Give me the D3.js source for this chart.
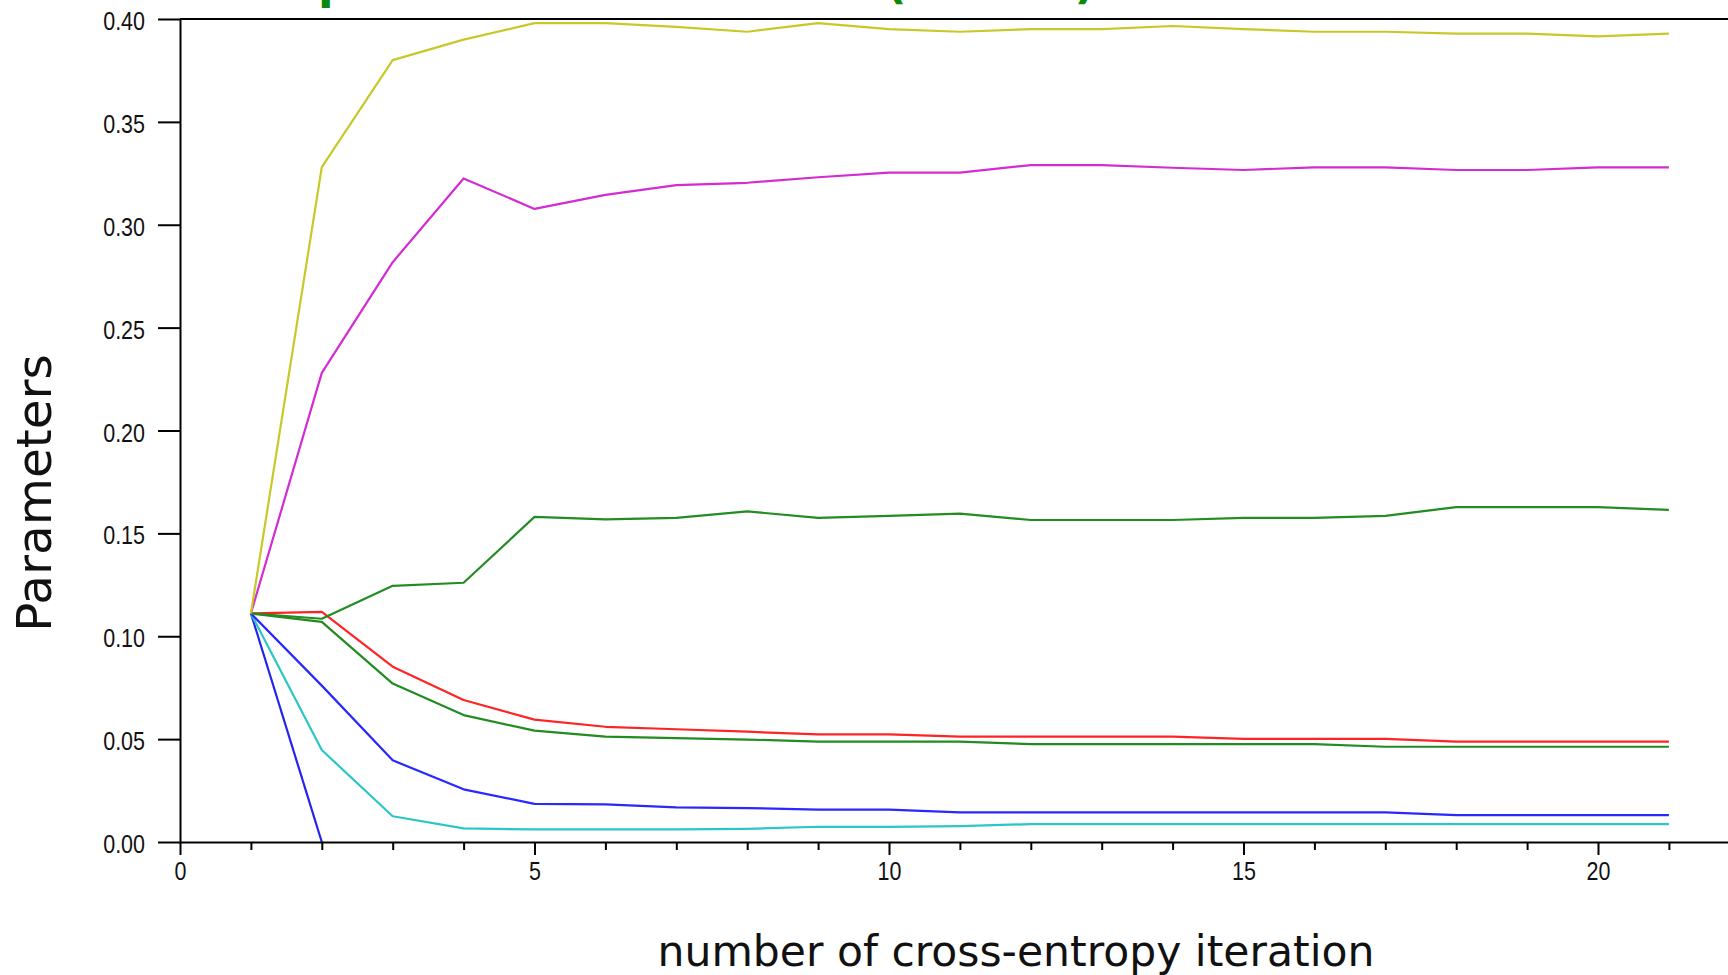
<!DOCTYPE html>
<html>
<head>
<meta charset="utf-8">
<script src="https://cdn.jsdelivr.net/npm/d3@7/dist/d3.min.js"></script>
<style>
  html, body { margin: 0; padding: 0; background: #fff; overflow: hidden; }
  svg { display: block; }
</style>
</head>
<body>
<div id="drawArea"></div>
<script>

// iterations 1..21 of the cross-entropy run
var iterations = d3.range(1, 22);

var yellowSeries = [0.1111, 0.328, 0.380, 0.390, 0.398, 0.398, 0.3962, 0.3938, 0.398, 0.3951, 0.3938,
										0.3951, 0.3951, 0.3966, 0.3951, 0.3938, 0.3938, 0.3929, 0.3929, 0.3916, 0.3929];
var magentaSeries = [0.1111, 0.228, 0.2818, 0.3225, 0.3077, 0.3145, 0.3193, 0.3204, 0.3231, 0.3253, 0.3253,
										 0.329, 0.329, 0.3277, 0.3266, 0.3279, 0.3279, 0.3266, 0.3266, 0.3279, 0.3279];
var greenUpperSeries = [0.1111, 0.1085, 0.1245, 0.126, 0.158, 0.1568, 0.1575, 0.1607, 0.1575, 0.1585, 0.1596,
												0.1565, 0.1565, 0.1565, 0.1575, 0.1575, 0.1585, 0.1628, 0.1628, 0.1628, 0.1614];
var redSeries = [0.1111, 0.1118, 0.0852, 0.069, 0.0595, 0.056, 0.0548, 0.0536, 0.0523, 0.0523, 0.0512,
								 0.0512, 0.0512, 0.0512, 0.0501, 0.0501, 0.0501, 0.0488, 0.0488, 0.0488, 0.0488];
var greenLowerSeries = [0.1111, 0.107, 0.077, 0.0617, 0.0541, 0.0512, 0.0505, 0.0498, 0.0488, 0.0488, 0.0488,
												0.0476, 0.0476, 0.0476, 0.0476, 0.0476, 0.0463, 0.0463, 0.0463, 0.0463, 0.0463];
var blueSeries = [0.1111, 0.076, 0.0397, 0.0256, 0.0185, 0.0183, 0.0168, 0.0165, 0.0157, 0.0157, 0.0144,
									0.0144, 0.0144, 0.0144, 0.0144, 0.0144, 0.0144, 0.0131, 0.0131, 0.0131, 0.0131];
var cyanSeries = [0.1111, 0.0447, 0.0125, 0.0066, 0.0061, 0.0061, 0.0061, 0.0064, 0.0074, 0.0074, 0.0077,
									0.0087, 0.0087, 0.0087, 0.0087, 0.0087, 0.0087, 0.0087, 0.0087, 0.0087, 0.0087];
var blueDropSeries = [0.1111, 0.0];

var yTicks = [0, 0.05, 0.10, 0.15, 0.20, 0.25, 0.30, 0.35, 0.40];
var xTicks = d3.range(0, 22);
var xLabelTicks = [0, 5, 10, 15, 20];

var titleText = "Estimated parameters evolution (means)";
var xLabel = "number of cross-entropy iteration";
var yLabel = "Parameters";

var series = [
	{ values: blueDropSeries, color: "#2323f0" },
	{ values: cyanSeries, color: "#2cc6c6" },
	{ values: blueSeries, color: "#2828ff" },
	{ values: greenLowerSeries, color: "#218c21" },
	{ values: redSeries, color: "#ff2424" },
	{ values: greenUpperSeries, color: "#238d23" },
	{ values: magentaSeries, color: "#d22cd2" },
	{ values: yellowSeries, color: "#c8c828" }
];

var svg_width = 1728;
var svg_height = 975;
var tickFont = "'Liberation Sans', Arial, sans-serif";
var tickSquash = 0.86;   // tick labels in the reference are narrow
var labelFont = "'DejaVu Sans', Verdana, sans-serif";

var svg = d3.select("#drawArea").append("svg")
	.attr("width", svg_width)
	.attr("height", svg_height);

svg.append("rect")
	.attr("width", svg_width)
	.attr("height", svg_height)
	.attr("fill", "#fff");

var x = d3.scaleLinear().domain([0, 22]).range([180, 180 + 22 * 70.9]);
var y = d3.scaleLinear().domain([0, 0.40]).range([842, 19]);

// title, only the descenders peek in at the top edge
var title = svg.append("text")
	.attr("x", 0)
	.attr("y", -2)
	.attr("font-family", labelFont)
	.attr("font-weight", "bold")
	.attr("font-size", 45)
	.attr("fill", "#0a8a0a")
	.text(titleText);

// fit it so the "p" and the brackets fall where the reference shows them
var tnode = title.node();
var iP = titleText.indexOf("parameters");
var iOpen = titleText.indexOf("(");
var pX = tnode.getStartPositionOfChar(iP).x;
var openX = tnode.getStartPositionOfChar(iOpen).x;
var titleSize = 45 * (886 - 318) / (openX - pX);
title.attr("font-size", titleSize);
pX = tnode.getStartPositionOfChar(iP).x;
title.attr("x", 318 - pX);

// lines
var line = d3.line()
	.x(function(d, i) { return x(iterations[i]); })
	.y(function(d) { return y(d); });

svg.selectAll("path.series")
	.data(series)
	.enter()
	.append("path")
		.classed("series", true)
		.attr("d", function(d) { return line(d.values); })
		.attr("fill", "none")
		.attr("stroke", function(d) { return d.color; })
		.attr("stroke-width", 2.2)
		.attr("stroke-linejoin", "round");

// top border
svg.append("line")
	.attr("x1", x(0)).attr("x2", x(22))
	.attr("y1", y(0.40)).attr("y2", y(0.40))
	.attr("stroke", "#000")
	.attr("stroke-width", 2);

// y axis
var yAxis = svg.append("g")
	.attr("transform", "translate(" + x(0) + ",0)")
	.call(d3.axisLeft(y)
		.tickValues(yTicks)
		.tickSize(22)
		.tickSizeOuter(0)
		.tickPadding(13)
		.tickFormat(d3.format(".2f")));

// x axis
var xAxis = svg.append("g")
	.attr("transform", "translate(0," + y(0) + ")")
	.call(d3.axisBottom(x)
		.tickValues(xTicks)
		.tickSize(13)
		.tickSizeOuter(0)
		.tickPadding(7)
		.tickFormat(function(d) { return xLabelTicks.indexOf(d) > -1 ? d : ""; }));

// minor ticks are shorter
xAxis.selectAll(".tick line")
	.filter(function(d) { return d % 5 != 0; })
	.attr("y2", 8);

[xAxis, yAxis].forEach(function(axis) {
	axis.selectAll("path, line")
		.attr("stroke", "#000")
		.attr("stroke-width", 2);
	axis.selectAll("text")
		.attr("font-family", tickFont)
		.attr("font-size", 25)
		.attr("fill", "#111")
		.attr("transform", "scale(" + tickSquash + ",1)");
});
yAxis.selectAll("text")
	.attr("x", -35 / tickSquash)
	.attr("dy", "0.42em");

// axis titles
svg.append("text")
	.attr("x", 1016)
	.attr("y", 966)
	.attr("text-anchor", "middle")
	.attr("font-family", labelFont)
	.attr("font-size", 42.5)
	.attr("fill", "#111")
	.text(xLabel);

svg.append("text")
	.attr("transform", "translate(51,493) rotate(-90)")
	.attr("text-anchor", "middle")
	.attr("font-family", labelFont)
	.attr("font-size", 48.5)
	.attr("fill", "#111")
	.text(yLabel);

</script>
</body>
</html>
